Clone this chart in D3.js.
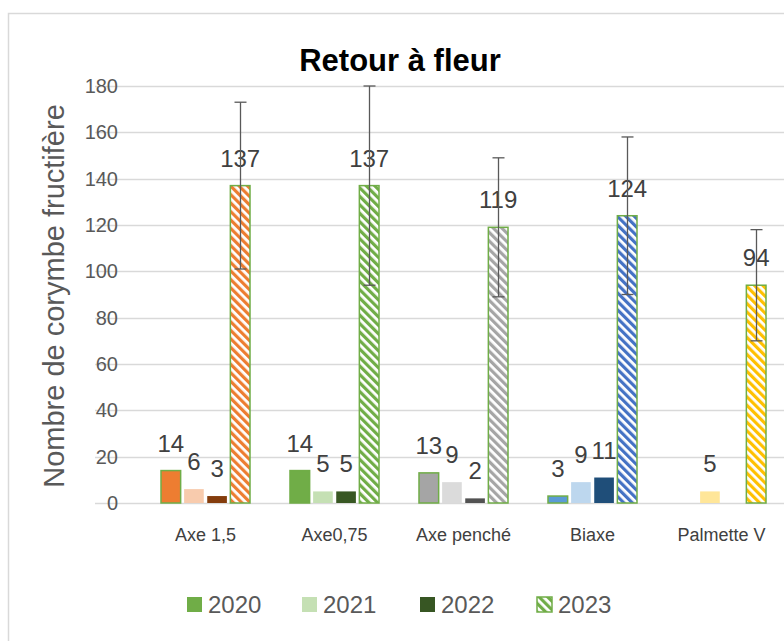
<!DOCTYPE html>
<html lang="fr">
<head>
    <meta charset="UTF-8">
    <title>Retour à fleur</title>
    <script src="https://d3js.org/d3.v7.min.js"></script>
    <style>
        body { margin: 0; background: #fff; }
        svg text { font-family: "Liberation Sans", Arial, sans-serif; }
        .grid line { stroke: #d9d9d9; stroke-width: 1.3px; }
        .tick-label { fill: #595959; font-size: 20px; }
        .cat-label { fill: #404040; font-size: 18px; }
        .data-label { fill: #404040; font-size: 24px; }
        .legend text { fill: #595959; font-size: 24px; }
        .err { stroke: #595959; stroke-width: 1.3px; }
    </style>
</head>
<body>
<div id="chart"></div>
<script>
    // data
    const categories = ["Axe 1,5", "Axe0,75", "Axe penché", "Biaxe", "Palmette V"];
    const years = ["2020", "2021", "2022", "2023"];
    const v2020 = [14, 14, 13, 3, null];
    const v2021 = [6, 5, 9, 9, 5];
    const v2022 = [3, 5, 2, 11, null];
    const v2023 = [137, 137, 119, 124, 94];
    const err2023 = [36, 43, 30, 34, 24];
    const yTicks = [0, 20, 40, 60, 80, 100, 120, 140, 160, 180];

    // colours per category (Excel shades)
    const col2020 = ["#ed7d31", "#70ad47", "#a5a5a5", "#5b9bd5", "#ffc000"];
    const col2021 = ["#f8cbad", "#c5e0b4", "#dbdbdb", "#bdd7ee", "#ffe699"];
    const col2022 = ["#843c0c", "#385723", "#525252", "#1f4e79", "#7f6000"];
    const col2023 = ["#ed7d31", "#70ad47", "#a5a5a5", "#4472c4", "#ffc000"];
    const legendCol = ["#70ad47", "#c5e0b4", "#375623", "#70ad47"];
    const outline = "#70ad47";

    const W = 784, H = 641;
    const svg = d3.select("#chart").append("svg")
        .attr("width", W)
        .attr("height", H);

    const defs = svg.append("defs");
    function hatch(id, color) {
        const p = defs.append("pattern")
            .attr("id", id)
            .attr("patternUnits", "userSpaceOnUse")
            .attr("width", 6)
            .attr("height", 6)
            .attr("patternTransform", "rotate(-45)");
        p.append("rect").attr("width", 6).attr("height", 6).attr("fill", "#fff");
        p.append("rect").attr("width", 3.2).attr("height", 6).attr("fill", color);
    }
    col2023.forEach((c, i) => hatch("h" + i, c));
    hatch("hleg", legendCol[3]);

    // chart area border
    svg.append("rect")
        .attr("x", 8.5).attr("y", 13.5)
        .attr("width", W + 20).attr("height", H + 20)
        .attr("fill", "none")
        .attr("stroke", "#d9d9d9")
        .attr("stroke-width", 1.5);

    const y = d3.scaleLinear().domain([0, 180]).range([503, 86]);
    const x0 = d3.scaleBand().domain(categories).range([141, 786])
        .paddingInner(0.31).paddingOuter(0.155);
    const x1 = d3.scaleBand().domain(years).range([0, x0.bandwidth()])
        .paddingInner(0.15);

    // gridlines
    svg.append("g").attr("class", "grid")
        .selectAll("line").data(yTicks).enter().append("line")
        .attr("x1", 95).attr("x2", W)
        .attr("y1", d => Math.round(y(d)) + 0.5)
        .attr("y2", d => Math.round(y(d)) + 0.5);

    // y tick labels
    svg.append("g").selectAll("text").data(yTicks).enter().append("text")
        .attr("class", "tick-label")
        .attr("x", 118)
        .attr("y", d => y(d) + 7)
        .attr("text-anchor", "end")
        .text(d => d);

    // y axis title
    svg.append("text")
        .attr("transform", "translate(64,296) rotate(-90)")
        .attr("text-anchor", "middle")
        .attr("fill", "#595959")
        .style("font-size", "29px")
        .text("Nombre de corymbe fructifère");

    // title
    svg.append("text")
        .attr("x", 400).attr("y", 71)
        .attr("text-anchor", "middle")
        .attr("fill", "#000")
        .style("font-size", "31px")
        .style("font-weight", "bold")
        .text("Retour à fleur");

    // category labels
    svg.append("g").selectAll("text").data(categories).enter().append("text")
        .attr("class", "cat-label")
        .attr("x", d => x0(d) + x0.bandwidth() / 2)
        .attr("y", 541)
        .attr("text-anchor", "middle")
        .text(d => d);

    // bars
    const series = [v2020, v2021, v2022, v2023];
    const fills = [
        i => col2020[i],
        i => col2021[i],
        i => col2022[i],
        i => "url(#h" + i + ")"
    ];
    const rows = [];
    series.forEach((vals, s) => {
        vals.forEach((v, i) => {
            if (v == null) return;
            rows.push({ cat: categories[i], ci: i, year: years[s], s: s, v: v });
        });
    });

    svg.append("g").selectAll("rect").data(rows).enter().append("rect")
        .attr("x", d => x0(d.cat) + x1(d.year))
        .attr("y", d => y(d.v))
        .attr("width", x1.bandwidth())
        .attr("height", d => y(0) - y(d.v))
        .attr("fill", d => fills[d.s](d.ci))
        .attr("stroke", d => (d.s === 0 || d.s === 3) ? outline : "none")
        .attr("stroke-width", 1.5);

    // data labels
    svg.append("g").selectAll("text").data(rows).enter().append("text")
        .attr("class", "data-label")
        .attr("x", d => x0(d.cat) + x1(d.year) + x1.bandwidth() / 2)
        .attr("y", d => y(d.v) - 19)
        .attr("text-anchor", "middle")
        .text(d => d.v);

    // error bars on 2023
    const errRows = v2023.map((v, i) => ({ cat: categories[i], v: v, e: err2023[i] }));
    const eg = svg.append("g").selectAll("g").data(errRows).enter().append("g")
        .attr("class", "err");
    const ex = d => Math.round(x0(d.cat) + x1("2023") + x1.bandwidth() / 2) + 0.5;
    eg.append("line")
        .attr("x1", ex).attr("x2", ex)
        .attr("y1", d => y(d.v + d.e)).attr("y2", d => y(d.v - d.e));
    eg.append("line")
        .attr("x1", d => ex(d) - 6).attr("x2", d => ex(d) + 6)
        .attr("y1", d => y(d.v + d.e)).attr("y2", d => y(d.v + d.e));
    eg.append("line")
        .attr("x1", d => ex(d) - 6).attr("x2", d => ex(d) + 6)
        .attr("y1", d => y(d.v - d.e)).attr("y2", d => y(d.v - d.e));

    // legend
    const legendX = [187, 302, 420, 537];
    const lg = svg.append("g").attr("class", "legend")
        .selectAll("g").data(years).enter().append("g")
        .attr("transform", (d, i) => `translate(${legendX[i]},597)`);
    lg.append("rect")
        .attr("width", 15).attr("height", 15)
        .attr("fill", (d, i) => i === 3 ? "url(#hleg)" : legendCol[i])
        .attr("stroke", (d, i) => i === 3 ? outline : "none")
        .attr("stroke-width", 1.5);
    lg.append("text")
        .attr("x", 21).attr("y", 16)
        .text(d => d);
</script>
</body>
</html>
